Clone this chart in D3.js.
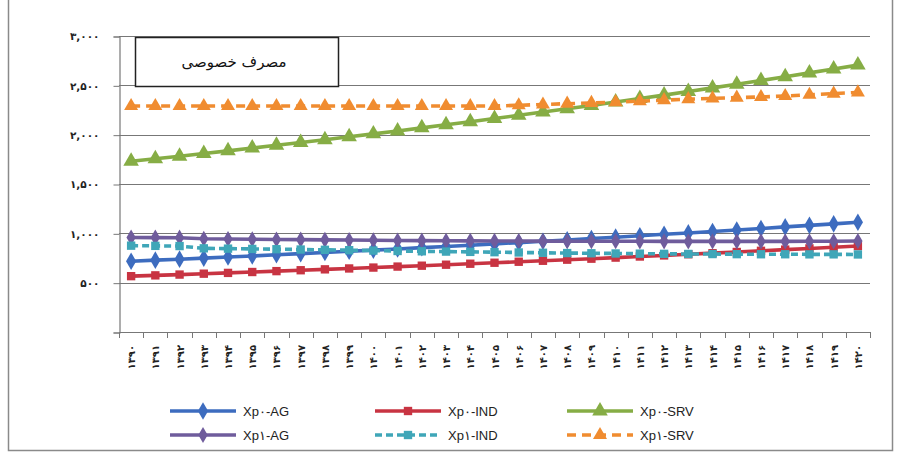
<!DOCTYPE html>
<html>
<head>
<meta charset="utf-8">
<script src="https://cdn.jsdelivr.net/npm/d3@7/dist/d3.min.js"></script>
<style>
  html, body { margin: 0; padding: 0; background: #fff; }
  svg { display: block; }
</style>
</head>
<body>
<svg id="chart" width="897" height="455"></svg>
<script>
// Years (Solar Hijri) on the category axis
const years = ['۱۳۹۰','۱۳۹۱','۱۳۹۲','۱۳۹۳','۱۳۹۴','۱۳۹۵','۱۳۹۶','۱۳۹۷','۱۳۹۸','۱۳۹۹',
               '۱۴۰۰','۱۴۰۱','۱۴۰۲','۱۴۰۳','۱۴۰۴','۱۴۰۵','۱۴۰۶','۱۴۰۷','۱۴۰۸','۱۴۰۹',
               '۱۴۱۰','۱۴۱۱','۱۴۱۲','۱۴۱۳','۱۴۱۴','۱۴۱۵','۱۴۱۶','۱۴۱۷','۱۴۱۸','۱۴۱۹','۱۴۲۰'];

// Private consumption by sector, two scenarios
const xp0AG  = [717,728,738,749,760,771,783,794,806,818,830,842,855,867,880,893,906,920,933,947,961,975,990,1004,1019,1034,1049,1065,1081,1096,1112];
const xp0IND = [566,574,582,591,599,608,617,626,635,644,653,663,672,682,692,702,712,722,733,743,754,765,776,788,799,811,823,835,847,859,871];
const xp0SRV = [1730,1756,1782,1809,1836,1864,1892,1920,1949,1978,2008,2038,2069,2100,2131,2163,2196,2229,2262,2296,2331,2366,2401,2437,2474,2511,2549,2587,2626,2665,2705];
const xp1AG  = [958,957,956,945,942,940,938,936,934,932,930,928,926,925,924,923,922,921,920,920,920,919,919,918,918,918,918,918,919,920,922];
const xp1IND = [875,873,871,848,845,842,839,836,833,829,825,821,818,815,812,809,806,803,800,798,796,794,792,791,790,789,788,788,787,787,786];
const xp1SRV = [2290,2290,2290,2290,2290,2290,2290,2290,2290,2290,2290,2290,2290,2290,2290,2290,2298,2306,2314,2322,2330,2340,2350,2360,2368,2375,2382,2392,2404,2416,2428];

// Y axis ticks and their Persian labels
const yTicks  = [0, 500, 1000, 1500, 2000, 2500, 3000];
const yLabels = ['', '۵۰۰', '۱,۰۰۰', '۱,۵۰۰', '۲,۰۰۰', '۲,۵۰۰', '۳,۰۰۰'];

const seriesNames = ['Xp۰-AG', 'Xp۰-IND', 'Xp۰-SRV', 'Xp۱-AG', 'Xp۱-IND', 'Xp۱-SRV'];
const seriesValues = [xp0AG, xp0IND, xp0SRV, xp1AG, xp1IND, xp1SRV];
const seriesColors = ['#3d6cbf', '#c83442', '#86ad45', '#6f5c9c', '#3fa6b8', '#f08c30'];
const seriesDash   = [null, null, null, null, '7,4', '9,6'];
const seriesMarker = [d3.symbolDiamond, d3.symbolSquare, d3.symbolTriangle, d3.symbolDiamond, d3.symbolSquare, d3.symbolTriangle];
const markerSize   = [90, 70, 105, 75, 70, 85];

const chartTitle = 'مصرف خصوصی';

const svg = d3.select('#chart');
const plot = { left: 119, right: 870, top: 36, bottom: 332 };

// Outer chart frame
svg.append('rect')
  .attr('x', 8.5).attr('y', -2).attr('width', 884).attr('height', 452.5)
  .attr('fill', 'none').attr('stroke', '#8a8a8a').attr('stroke-width', 1.5);

const x = d3.scaleBand().domain(years).range([plot.left, plot.right]).paddingInner(0).paddingOuter(0);
const xc = d => x(d) + x.bandwidth() / 2;
const y = d3.scaleLinear().domain([0, 3000]).range([plot.bottom, plot.top]);

// Horizontal gridlines
svg.append('g')
  .selectAll('line')
  .data(yTicks.filter(t => t > 0))
  .join('line')
  .attr('x1', plot.left).attr('x2', plot.right)
  .attr('y1', d => Math.round(y(d)) + 0.5).attr('y2', d => Math.round(y(d)) + 0.5)
  .attr('stroke', '#777').attr('stroke-width', 1);

// Y axis
const yAxis = d3.axisLeft(y)
  .tickValues(yTicks)
  .tickSize(6)
  .tickPadding(14)
  .tickFormat((d, i) => yLabels[i]);
svg.append('g')
  .attr('transform', `translate(${plot.left + 0.5},0.5)`)
  .call(yAxis)
  .call(g => g.select('.domain').attr('stroke', '#777').attr('stroke-width', 1.2))
  .call(g => g.selectAll('.tick line').attr('stroke', '#777'))
  .call(g => g.selectAll('.tick text')
    .attr('font-family', 'DejaVu Sans, sans-serif')
    .attr('font-size', 10.5).attr('font-weight', 'bold').attr('fill', '#222'));

// X axis: tick marks sit on category boundaries
const boundaries = years.map(d => x(d)).concat([plot.right]);
const xg = svg.append('g');
xg.append('line')
  .attr('x1', plot.left).attr('x2', plot.right)
  .attr('y1', plot.bottom + 0.5).attr('y2', plot.bottom + 0.5)
  .attr('stroke', '#777').attr('stroke-width', 1.2);
xg.selectAll('line.tk')
  .data(boundaries)
  .join('line')
  .attr('class', 'tk')
  .attr('x1', d => Math.round(d) + 0.5).attr('x2', d => Math.round(d) + 0.5)
  .attr('y1', plot.bottom).attr('y2', plot.bottom + 6)
  .attr('stroke', '#777');
xg.selectAll('text')
  .data(years)
  .join('text')
  .attr('transform', d => `translate(${xc(d) + 4},${plot.bottom + 13}) rotate(-90)`)
  .attr('text-anchor', 'end')
  .attr('font-family', 'DejaVu Sans, sans-serif')
  .attr('font-size', 10).attr('font-weight', 'bold').attr('fill', '#222')
  .text(d => d);

// Series lines and markers
const line = d3.line().x((d, i) => xc(years[i])).y(d => y(d));
seriesValues.forEach((vals, s) => {
  const g = svg.append('g');
  g.append('path')
    .datum(vals)
    .attr('d', line)
    .attr('fill', 'none')
    .attr('stroke', seriesColors[s])
    .attr('stroke-width', 3.6)
    .attr('stroke-dasharray', seriesDash[s]);
  g.selectAll('path.mk')
    .data(vals)
    .join('path')
    .attr('class', 'mk')
    .attr('d', d3.symbol(seriesMarker[s], markerSize[s]))
    .attr('transform', (d, i) => `translate(${xc(years[i])},${y(d)})`)
    .attr('fill', seriesColors[s]);
});

// Title box
const tb = svg.append('g');
tb.append('rect')
  .attr('x', 135.5).attr('y', 37.5).attr('width', 203).attr('height', 49)
  .attr('fill', '#fff').attr('stroke', '#222').attr('stroke-width', 1.5);
tb.append('text')
  .attr('x', 234).attr('y', 67)
  .attr('text-anchor', 'middle')
  .attr('direction', 'rtl')
  .attr('font-family', 'DejaVu Sans, sans-serif')
  .attr('font-size', 15).attr('fill', '#111')
  .text(chartTitle);

// Legend: three columns, two rows
const legCols = [170, 375, 567];
const legRows = [411, 435];
const leg = svg.append('g');
seriesNames.forEach((name, s) => {
  const cx0 = legCols[s % 3];
  const cy = legRows[Math.floor(s / 3)];
  const g = leg.append('g');
  g.append('line')
    .attr('x1', cx0).attr('x2', cx0 + 66)
    .attr('y1', cy).attr('y2', cy)
    .attr('stroke', seriesColors[s]).attr('stroke-width', 3.6)
    .attr('stroke-dasharray', seriesDash[s]);
  g.append('path')
    .attr('d', d3.symbol(seriesMarker[s], markerSize[s]))
    .attr('transform', `translate(${cx0 + 33},${cy})`)
    .attr('fill', seriesColors[s]);
  g.append('text')
    .attr('x', cx0 + 73).attr('y', cy + 4.5)
    .attr('font-family', 'Liberation Sans, Arial, sans-serif')
    .attr('font-size', 13).attr('fill', '#222')
    .text(name);
});
</script>
</body>
</html>
